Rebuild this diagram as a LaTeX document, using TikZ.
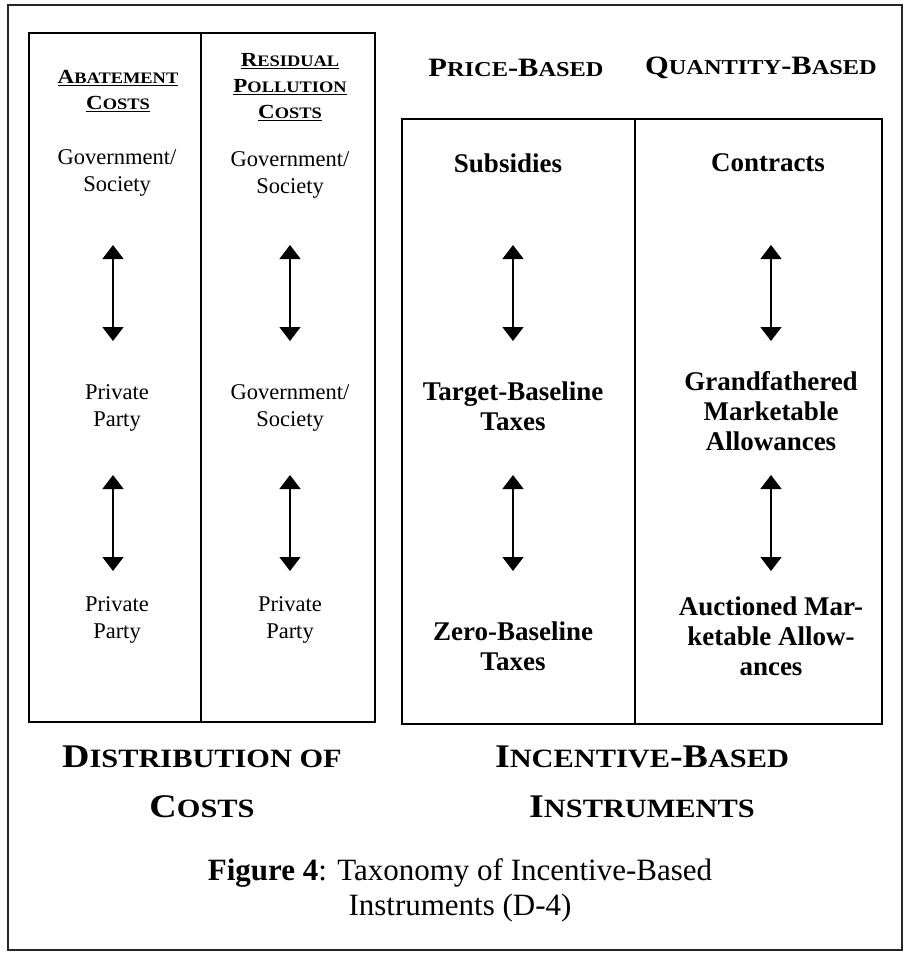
\documentclass[tikz,border=0pt]{standalone}
\usepackage{fontspec}
\setmainfont{Liberation Serif}
\newfontfamily\scfont[FakeStretch=1.15]{Liberation Serif}
\usetikzlibrary{arrows.meta}
\makeatletter
\newcommand\smc[1]{{\fontsize{\the\dimexpr 0.8\dimexpr\f@size pt\relax\relax}{\baselineskip}\selectfont #1}}
\makeatother

\tikzset{
  body/.style={font=\fontsize{22.5}{27}\selectfont, align=center},
  instr/.style={font=\bfseries\fontsize{27}{30}\selectfont, align=center},
  colhead/.style={font=\scfont\bfseries\fontsize{20}{26}\selectfont, align=center},
  grouphead/.style={font=\scfont\bfseries\fontsize{26.5}{30}\selectfont},
  bighead/.style={font=\scfont\bfseries\fontsize{33}{50}\selectfont, align=center},
  dblarrow/.style={{Triangle[width=21pt,length=14pt]}-{Triangle[width=21pt,length=14pt]}, line width=1.5pt},
  frame/.style={line width=1.6pt}
}

\begin{document}
\begin{tikzpicture}[x=1pt, y=-1pt]
    \useasboundingbox (0,0) rectangle (910,954);
    % Outer frame
    \draw[frame, black!85] (8,5) rectangle (902,950);

    % Distribution of costs
    \draw[frame] (29,33) rectangle (375,722);
    \draw[frame] (201,33) -- (201,722);
    \node[colhead] (abate) at (118,91) {\underline{A\smc{BATEMENT}}\\\underline{C\smc{OSTS}}};
    \node[colhead] (resid) at (290,87) {\underline{R\smc{ESIDUAL}}\\\underline{P\smc{OLLUTION}}\\\underline{C\smc{OSTS}}};
    \node[body] (gov1) at (117,173) {Government/\\Society};
    \node[body] (gov2) at (290,175) {Government/\\Society};
    \node[body] (priv1) at (117,408) {Private\\Party};
    \node[body] (gov3) at (290,408) {Government/\\Society};
    \node[body] (priv2) at (117,620) {Private\\Party};
    \node[body] (priv3) at (290,620) {Private\\Party};

    % Incentive-based instruments
    \node[grouphead] (price) at (516,68) {P\smc{RICE}-B\smc{ASED}};
    \node[grouphead] (quant) at (761,68) {Q\smc{UANTITY}-B\smc{ASED}};
    \draw[frame] (402,119) rectangle (882,724);
    \draw[frame] (635,119) -- (635,724);
    \node[instr] (subs) at (508,163) {Subsidies};
    \node[instr] (contr) at (768,163) {Contracts};
    \node[instr] (target) at (513,406) {Target-Baseline\\Taxes};
    \node[instr] (grand) at (771,411) {Grandfathered\\Marketable\\Allowances};
    \node[instr] (zero) at (513,646) {Zero-Baseline\\Taxes};
    \node[instr] (auct) at (771,636) {Auctioned Mar-\\ketable Allow-\\ances};

    % Arrows
    \coordinate (a1t) at (113,245); \coordinate (a1b) at (113,341);
    \coordinate (a2t) at (113,475); \coordinate (a2b) at (113,571);
    \coordinate (b1t) at (290,245); \coordinate (b1b) at (290,341);
    \coordinate (b2t) at (290,475); \coordinate (b2b) at (290,571);
    \coordinate (c1t) at (513,245); \coordinate (c1b) at (513,341);
    \coordinate (c2t) at (513,475); \coordinate (c2b) at (513,571);
    \coordinate (d1t) at (771,245); \coordinate (d1b) at (771,341);
    \coordinate (d2t) at (771,475); \coordinate (d2b) at (771,571);
    \draw[dblarrow] (a1t) -- (a1b);
    \draw[dblarrow] (a2t) -- (a2b);
    \draw[dblarrow] (b1t) -- (b1b);
    \draw[dblarrow] (b2t) -- (b2b);
    \draw[dblarrow] (c1t) -- (c1b);
    \draw[dblarrow] (c2t) -- (c2b);
    \draw[dblarrow] (d1t) -- (d1b);
    \draw[dblarrow] (d2t) -- (d2b);

    % Headings and caption
    \node[bighead] (distr) at (202,782) {D\smc{ISTRIBUTION OF}\\C\smc{OSTS}};
    \node[bighead] (incent) at (642,782) {I\smc{NCENTIVE}-B\smc{ASED}\\I\smc{NSTRUMENTS}};
    \node[font=\fontsize{31}{35}\selectfont, align=center] (caption) at (460,890)
        {\textbf{Figure 4}: Taxonomy of Incentive-Based\\Instruments (D-4)};
\end{tikzpicture}
\end{document}
